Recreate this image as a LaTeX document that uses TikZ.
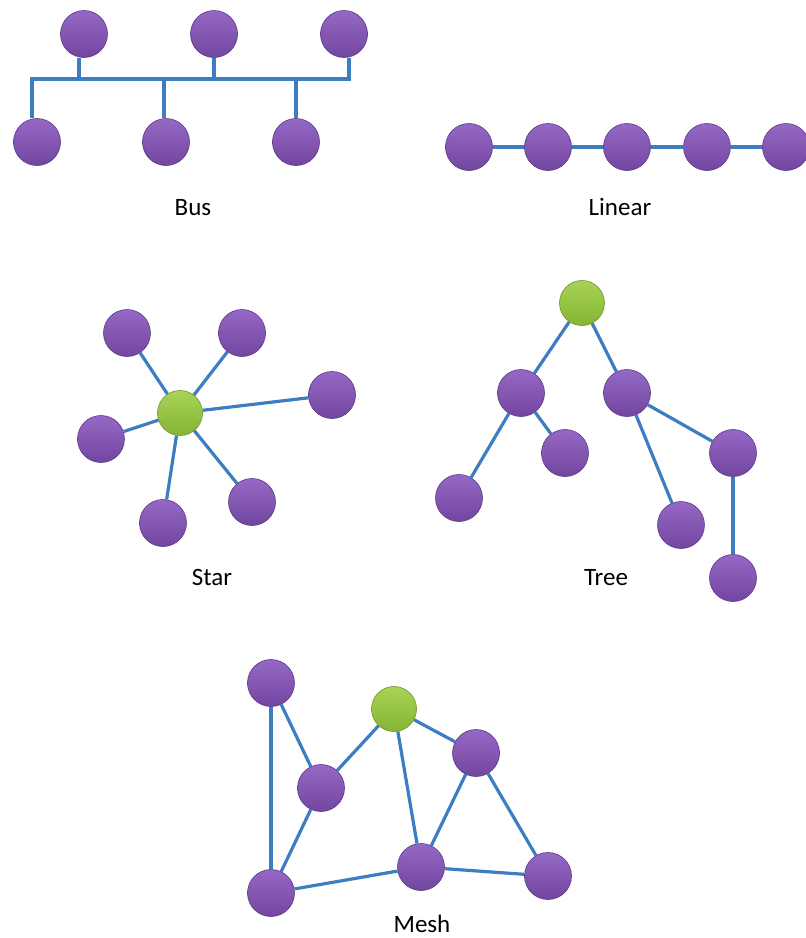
\documentclass[tikz,border=0pt]{standalone}
\usepackage{fontspec}
\setmainfont{Carlito}
\usetikzlibrary{calc}
\definecolor{hostTop}{HTML}{9468C4}
\definecolor{hostBot}{HTML}{7246A0}
\definecolor{hostEdge}{HTML}{5B3A86}
\definecolor{hubTop}{HTML}{A8D356}
\definecolor{hubBot}{HTML}{84B533}
\definecolor{hubEdge}{HTML}{6C9428}
\definecolor{wire}{HTML}{3D7DC2}

\begin{document}
\begin{tikzpicture}[x=1pt, y=-1pt,
  host/.style={circle, minimum size=47pt, inner sep=0pt, top color=hostTop, bottom color=hostBot, draw=hostEdge, line width=0.6pt},
  hub/.style={circle, minimum size=45pt, inner sep=0pt, top color=hubTop, bottom color=hubBot, draw=hubEdge, line width=0.6pt},
  link/.style={draw=wire, line width=3.2pt},
  caption/.style={font=\fontsize{25}{28}\selectfont, text=black}]
\useasboundingbox (0,0) rectangle (806,938);
\fill[white] (0,0) rectangle (806,938);

% bus
\node[host] at (84, 34) (t1) {};
\node[host] at (214, 34) (t2) {};
\node[host] at (344, 34) (t3) {};
\node[host] at (37, 142) (u1) {};
\node[host] at (166, 142) (u2) {};
\node[host] at (296, 142) (u3) {};
\coordinate (bus) at (0, 79);
\draw[link] ($(u1.north)+(-5,0)$) |- ($(t3.south |- bus)+(5,0)$) -- ($(t3.south)+(5,0)$);
\draw[link] ($(t1.south)+(-5,0)$) -- ($(t1.south |- bus)+(-5,0)$);
\draw[link] (t2) -- (t2 |- bus);
\draw[link] ($(u2.north)+(-2,0)$) -- ($(u2.north |- bus)+(-2,0)$);
\draw[link] (u3) -- (u3 |- bus);
\node[caption] at (193, 208) (lblBus) {Bus};

% linear
\node[host] at (469, 147) (l1) {};
\node[host] at (548, 147) (l2) {};
\node[host] at (627, 147) (l3) {};
\node[host] at (707, 147) (l4) {};
\node[host] at (786, 147) (l5) {};
\foreach \a/\b in {l1/l2, l2/l3, l3/l4, l4/l5}
  \path (\a) edge[link] (\b);
\node[caption] at (620, 207) (lblLinear) {Linear};

% star
\node[hub] at (180, 413) (s0) {};
\node[host] at (127, 333) (s1) {};
\node[host] at (242, 333) (s2) {};
\node[host] at (332, 395) (s3) {};
\node[host] at (101, 439) (s4) {};
\node[host] at (252, 502) (s5) {};
\node[host] at (163, 523) (s6) {};
\foreach \n in {s1, s2, s3, s4, s5, s6}
  \path (s0) edge[link] (\n);
\node[caption] at (212, 577) (lblStar) {Star};

% tree
\node[hub] at (582, 303) (r0) {};
\node[host] at (521, 393) (rL) {};
\node[host] at (627, 393) (rR) {};
\node[host] at (459, 498) (rLL) {};
\node[host] at (565, 453) (rLR) {};
\node[host] at (681, 525) (rRL) {};
\node[host] at (733, 453) (rRR) {};
\node[host] at (733, 578) (rRRR) {};
\foreach \a/\b in {r0/rL, r0/rR, rL/rLL, rL/rLR, rR/rRL, rR/rRR, rRR/rRRR}
  \path (\a) edge[link] (\b);
\node[caption] at (606, 578) (lblTree) {Tree};

% mesh
\node[host] at (271, 683) (mA) {};
\node[hub] at (394, 709) (mG) {};
\node[host] at (321, 788) (mB) {};
\node[host] at (476, 753) (mC) {};
\node[host] at (271, 893) (mD) {};
\node[host] at (421, 867) (mE) {};
\node[host] at (548, 876) (mF) {};
\foreach \a/\b in {mA/mD, mA/mB, mB/mG, mB/mD, mG/mE, mG/mC, mC/mE, mC/mF, mD/mE, mE/mF}
  \path (\a) edge[link] (\b);
\node[caption] at (422, 924) (lblMesh) {Mesh};
\end{tikzpicture}
\end{document}
